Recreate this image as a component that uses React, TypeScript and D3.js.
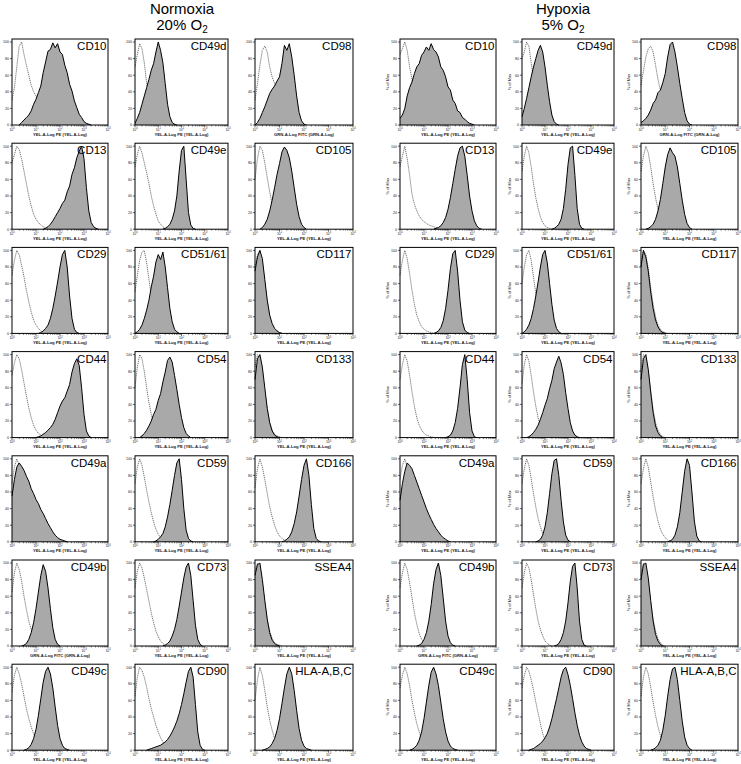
import React from 'react';
import * as d3 from 'd3';

// ---------- data ----------
const STEP = 0.1; // histogram bin width in decades (log10 units)

const markers: string[] = [
  'CD10', 'CD49d', 'CD98',
  'CD13', 'CD49e', 'CD105',
  'CD29', 'CD51/61', 'CD117',
  'CD44', 'CD54', 'CD133',
  'CD49a', 'CD59', 'CD166',
  'CD49b', 'CD73', 'SSEA4',
  'CD49c', 'CD90', 'HLA-A,B,C',
];

const fitcMarkers: string[] = ['CD98', 'CD49b'];
const peTitle = 'YEL-A-Log PE (YEL-A-Log)';
const fitcTitle = 'GRN-A-Log FITC (GRN-A-Log)';

const yTicks: number[] = [0, 20, 40, 60, 80, 100];
const xDecades: number[] = [0, 1, 2, 3, 4];

// Normoxia isotype controls (start at 10^0)
const normCtrl: number[][] = [
  [30, 45, 70, 95, 100, 85, 72, 60, 48, 40, 35, 30, 24, 18, 12, 8, 4, 2, 1],
  [70, 85, 98, 92, 75, 50, 38, 30, 22, 15, 10, 6, 3, 1],
  [30, 50, 72, 90, 95, 88, 70, 58, 50, 40, 30, 20, 12, 6, 3, 1],
  [80, 90, 100, 96, 85, 70, 55, 40, 28, 18, 12, 8, 5, 3, 2, 1],
  [75, 90, 100, 92, 80, 68, 55, 40, 28, 18, 10, 6, 3, 1],
  [60, 85, 100, 95, 80, 62, 45, 30, 18, 10, 5, 2, 1],
  [70, 88, 100, 95, 82, 68, 52, 38, 26, 16, 10, 6, 3, 1],
  [50, 70, 88, 98, 100, 85, 65, 45, 30, 18, 10, 5, 2, 1],
  [80, 95, 100, 85, 60, 38, 20, 10, 5, 2, 1],
  [75, 90, 100, 95, 82, 66, 50, 36, 24, 15, 9, 5, 3, 1],
  [60, 85, 100, 95, 80, 60, 42, 28, 16, 9, 4, 2, 1],
  [85, 100, 95, 80, 55, 35, 18, 9, 4, 2, 1],
  [70, 90, 100, 92, 75, 55, 38, 24, 14, 8, 4, 2, 1],
  [70, 90, 100, 92, 78, 62, 48, 35, 24, 15, 9, 5, 2, 1],
  [65, 88, 100, 90, 75, 58, 42, 30, 20, 12, 7, 4, 2, 1],
  [65, 88, 100, 92, 78, 60, 44, 30, 20, 12, 7, 3, 1],
  [70, 90, 100, 94, 82, 68, 54, 40, 28, 18, 11, 6, 3, 1],
  [90, 100, 92, 75, 52, 32, 18, 9, 4, 2, 1],
  [70, 90, 100, 92, 80, 65, 50, 38, 28, 20, 13, 8, 4, 2, 1],
  [65, 88, 100, 96, 88, 76, 62, 50, 40, 30, 22, 15, 10, 6, 3, 1],
  [60, 85, 100, 90, 72, 52, 36, 24, 14, 8, 4, 2, 1],
];

// Normoxia stained samples: first bin index, then counts (% of max)
const normSampleStart: number[] = [4, 0, 1, 14, 13, 3, 12, 1, 0, 11, 3, 0, 0, 9, 12, 5, 13, 0, 6, 6, 4];
const normSample: number[][] = [
  [3, 6, 9, 12, 17, 25, 31, 39, 47, 63, 76, 89, 91, 99, 93, 98, 88, 85, 72, 63, 49, 41, 29, 21, 13, 9, 4, 2, 1],
  [2, 8, 15, 25, 35, 45, 55, 66, 74, 88, 100, 90, 75, 50, 25, 10, 3, 1],
  [3, 8, 15, 22, 30, 38, 43, 47, 53, 58, 74, 96, 90, 98, 82, 60, 35, 15, 5, 1],
  [1, 3, 6, 10, 15, 20, 25, 31, 35, 45, 52, 66, 74, 86, 94, 100, 85, 50, 22, 8, 3, 1],
  [1, 3, 6, 12, 22, 40, 70, 95, 100, 60, 20, 5, 1],
  [2, 6, 12, 22, 35, 50, 66, 79, 93, 99, 95, 86, 70, 50, 30, 15, 6, 2],
  [1, 3, 6, 10, 18, 30, 45, 62, 80, 95, 100, 80, 45, 18, 5, 1],
  [2, 5, 10, 18, 28, 40, 56, 69, 86, 95, 89, 98, 80, 55, 30, 14, 5, 2],
  [75, 92, 100, 90, 65, 40, 22, 12, 6, 3, 1],
  [1, 2, 4, 6, 9, 12, 16, 22, 30, 38, 44, 48, 56, 64, 79, 89, 95, 87, 60, 28, 8, 2],
  [2, 5, 9, 14, 20, 28, 34, 45, 53, 67, 79, 93, 97, 91, 75, 58, 40, 24, 12, 5, 2],
  [70, 95, 100, 85, 60, 35, 18, 8, 3, 1],
  [55, 75, 90, 95, 91, 86, 79, 73, 64, 58, 51, 46, 39, 34, 28, 22, 17, 12, 8, 5, 3, 2, 1],
  [1, 3, 6, 10, 18, 30, 45, 62, 80, 95, 100, 75, 40, 14, 4, 1],
  [1, 3, 6, 12, 22, 36, 55, 75, 92, 100, 80, 45, 16, 4, 1],
  [1, 3, 8, 16, 28, 45, 65, 85, 98, 90, 70, 45, 22, 8, 2],
  [1, 3, 6, 12, 20, 32, 48, 65, 82, 95, 100, 85, 55, 25, 8, 2],
  [85, 98, 100, 80, 55, 32, 16, 7, 3, 1],
  [1, 3, 7, 14, 25, 42, 62, 82, 95, 100, 92, 75, 52, 30, 14, 6, 2, 1],
  [1, 2, 3, 4, 5, 6, 8, 10, 13, 17, 22, 28, 35, 44, 55, 68, 82, 95, 100, 88, 55, 22, 6, 1],
  [1, 2, 4, 8, 14, 24, 38, 56, 75, 92, 100, 92, 72, 48, 26, 12, 5, 2, 1],
];

// Hypoxia isotype controls
const hypCtrl: number[][] = [
  [85, 92, 100, 90, 70, 55, 42, 30, 20, 12, 7, 4, 2, 1],
  [80, 88, 100, 95, 75, 55, 40, 28, 18, 10, 5, 2, 1],
  [48, 65, 82, 92, 95, 88, 72, 55, 42, 30, 20, 12, 6, 3, 1],
  [75, 88, 100, 85, 65, 42, 30, 22, 16, 12, 9, 7, 5, 4, 3, 2, 1],
  [70, 88, 100, 92, 75, 55, 38, 25, 15, 8, 4, 2, 1],
  [70, 88, 100, 92, 75, 55, 38, 24, 14, 8, 4, 2, 1],
  [70, 88, 100, 90, 72, 52, 35, 22, 14, 8, 5, 3, 2, 1],
  [60, 80, 95, 100, 88, 68, 48, 32, 20, 12, 6, 3, 1],
  [85, 100, 95, 78, 55, 35, 20, 10, 5, 2, 1],
  [70, 88, 100, 92, 75, 55, 38, 24, 15, 9, 5, 3, 2, 1],
  [65, 88, 100, 92, 75, 55, 38, 24, 14, 8, 4, 2, 1],
  [80, 100, 96, 80, 56, 34, 18, 9, 4, 1],
  [75, 92, 100, 90, 72, 52, 35, 22, 13, 7, 3, 1],
  [70, 88, 100, 92, 76, 58, 42, 28, 18, 10, 5, 2, 1],
  [70, 88, 100, 90, 72, 54, 38, 25, 15, 9, 5, 2, 1],
  [70, 88, 100, 92, 76, 58, 40, 26, 15, 8, 4, 2, 1],
  [70, 88, 100, 94, 80, 62, 45, 30, 20, 12, 6, 3, 1],
  [85, 100, 92, 75, 52, 32, 18, 9, 4, 1],
  [75, 90, 100, 92, 78, 60, 45, 32, 22, 14, 8, 4, 2, 1],
  [75, 90, 100, 95, 85, 72, 58, 45, 32, 20, 12, 6, 3, 1],
  [65, 88, 100, 92, 76, 58, 42, 28, 18, 10, 5, 2, 1],
];

const hypSampleStart: number[] = [0, 0, 0, 15, 14, 3, 15, 1, 0, 20, 3, 0, 0, 7, 12, 8, 15, 0, 5, 4, 5];
const hypSample: number[][] = [
  [8, 12, 20, 35, 45, 52, 62, 70, 74, 84, 88, 94, 90, 98, 91, 88, 82, 70, 66, 58, 46, 42, 30, 26, 17, 15, 9, 7, 4, 2, 1],
  [10, 20, 32, 45, 58, 70, 80, 90, 96, 88, 70, 48, 28, 12, 4, 1],
  [3, 5, 8, 12, 18, 26, 30, 39, 42, 51, 62, 82, 97, 100, 88, 70, 50, 32, 15, 5, 1],
  [1, 2, 4, 8, 14, 24, 38, 55, 72, 88, 98, 100, 88, 65, 40, 22, 10, 4, 1],
  [1, 3, 6, 12, 25, 48, 78, 98, 100, 65, 25, 6, 1],
  [1, 3, 6, 12, 22, 36, 55, 75, 90, 98, 92, 88, 75, 55, 35, 18, 7, 2],
  [1, 3, 7, 15, 30, 52, 78, 96, 100, 75, 40, 14, 4, 1],
  [2, 5, 10, 18, 30, 45, 62, 80, 95, 100, 85, 60, 35, 16, 6, 2],
  [80, 100, 92, 75, 50, 30, 16, 8, 3, 1],
  [1, 3, 8, 18, 35, 60, 88, 100, 70, 30, 8, 1],
  [1, 3, 6, 10, 15, 22, 30, 39, 47, 59, 69, 83, 91, 98, 90, 76, 54, 35, 18, 8, 3, 1],
  [70, 95, 100, 82, 55, 30, 14, 6, 2],
  [50, 70, 85, 95, 92, 88, 80, 72, 64, 56, 48, 40, 33, 27, 21, 16, 12, 8, 5, 3, 1],
  [1, 3, 8, 18, 35, 58, 82, 98, 100, 80, 50, 24, 8, 2],
  [1, 3, 8, 18, 35, 60, 85, 100, 92, 60, 25, 7, 1],
  [1, 3, 8, 16, 30, 50, 75, 92, 100, 85, 58, 30, 12, 4, 1],
  [1, 3, 8, 16, 30, 52, 78, 96, 100, 70, 30, 8, 1],
  [80, 98, 100, 82, 55, 30, 14, 6, 2],
  [1, 3, 6, 12, 22, 38, 58, 78, 94, 100, 92, 78, 58, 38, 22, 11, 5, 2, 1],
  [1, 2, 4, 6, 8, 11, 15, 20, 28, 38, 50, 62, 75, 88, 97, 100, 91, 78, 62, 45, 30, 18, 10, 5, 2, 1],
  [1, 3, 6, 12, 24, 42, 65, 85, 98, 100, 85, 60, 35, 16, 6, 2],
];

// ---------- layout ----------
const W = 741;
const H = 764;
const FONT = '"Liberation Sans", Arial, Helvetica, sans-serif';
const ROW_TOP = 39;
const ROW_STEP = 104.2;
const PANEL_H = 86;

type Group = {
  title: string;
  o2: string;
  cx: number;
  cols: [number, number][];
  ctrl: number[][];
  sample: number[][];
  start: number[];
  yTitle: boolean;
};

const groups: Group[] = [
  { title: 'Normoxia', o2: '20% O', cx: 182, cols: [[12, 108], [135, 228], [255, 353]], ctrl: normCtrl, sample: normSample, start: normSampleStart, yTitle: false },
  { title: 'Hypoxia', o2: '5% O', cx: 563, cols: [[400, 496], [522, 614], [641, 738]], ctrl: hypCtrl, sample: hypSample, start: hypSampleStart, yTitle: true },
];

type Pt = [number, number];

function toPoints(vals: number[], start: number): Pt[] {
  const pts: Pt[] = [];
  if (start > 0) pts.push([(start - 1) * STEP, 0]);
  vals.forEach((v, i) => pts.push([(start + i) * STEP, v]));
  pts.push([(start + vals.length) * STEP, 0]);
  return pts;
}

function Panel({ x0, x1, top, label, ctrl, sample, start, yTitle }: {
  x0: number; x1: number; top: number; label: string; ctrl: number[]; sample: number[]; start: number; yTitle: boolean;
}) {
  const bottom = top + PANEL_H;
  const xs = d3.scaleLog().domain([1, 1e4]).range([x0, x1]);
  const ys = d3.scaleLinear().domain([0, 100]).range([bottom, top + 3]);
  const area = d3.area<Pt>().x(d => xs(Math.pow(10, d[0]))).y0(ys(0)).y1(d => ys(d[1]));
  const line = d3.line<Pt>().x(d => xs(Math.pow(10, d[0]))).y(d => ys(d[1]));
  const ctrlPts = toPoints(ctrl, 0);
  const samplePts = toPoints(sample, start);
  const minor: number[] = [];
  for (let d = 0; d < 4; d++) for (let k = 2; k <= 9; k++) minor.push(k * Math.pow(10, d));
  const xTitle = fitcMarkers.includes(label) ? fitcTitle : peTitle;
  return (
    <g>
      <path d={line(ctrlPts) || ''} fill="none" stroke="#3a3a3a" strokeWidth={0.7} strokeDasharray="1.2,0.8" />
      <path d={area(samplePts) || ''} fill="#a9a9a9" stroke="none" />
      <path d={line(samplePts) || ''} fill="none" stroke="#000" strokeWidth={1} />
      <rect x={x0} y={top} width={x1 - x0} height={PANEL_H} fill="none" stroke="#000" strokeWidth={1} />
      {yTicks.map(t => (
        <g key={'y' + t}>
          <line x1={x0 - 2} x2={x0} y1={ys(t)} y2={ys(t)} stroke="#000" strokeWidth={0.6} />
          <text x={x0 - 3} y={ys(t) + 1.3} fontSize={3.6} textAnchor="end" fontFamily={FONT} fill="#222">{t}</text>
        </g>
      ))}
      {minor.map(m => (
        <line key={'m' + m} x1={xs(m)} x2={xs(m)} y1={bottom} y2={bottom + 1.5} stroke="#000" strokeWidth={0.5} />
      ))}
      {xDecades.map(d => (
        <g key={'x' + d}>
          <line x1={xs(Math.pow(10, d))} x2={xs(Math.pow(10, d))} y1={bottom} y2={bottom + 2.5} stroke="#000" strokeWidth={0.6} />
          <text x={xs(Math.pow(10, d))} y={bottom + 5.5} fontSize={3.4} textAnchor="middle" fontFamily={FONT} fill="#222">
            10<tspan fontSize={2.6} dy={-1.4}>{d}</tspan>
          </text>
        </g>
      ))}
      <text x={(x0 + x1) / 2} y={bottom + 10.5} fontSize={4.2} fontWeight="bold" textAnchor="middle" fontFamily={FONT} fill="#222">{xTitle}</text>
      {yTitle && (
        <text transform={`translate(${x0 - 11},${(top + bottom) / 2}) rotate(-90)`} fontSize={4} textAnchor="middle" fontFamily={FONT} fill="#222">% of Max</text>
      )}
      <text x={x1 - 1.5} y={top + 11} fontSize={11.5} textAnchor="end" fontFamily={FONT} fill="#000">{label}</text>
    </g>
  );
}

export default function App() {
  return (
    <svg width={W} height={H} viewBox={`0 0 ${W} ${H}`} style={{ position: 'absolute', left: 0, top: 0, background: '#fff' }}>
      <rect x={0} y={0} width={W} height={H} fill="#fff" />
      {groups.map(g => (
        <g key={g.title}>
          <text x={g.cx} y={13.5} fontSize={15} textAnchor="middle" fontFamily={FONT} fill="#000">{g.title}</text>
          <text x={g.cx} y={30} fontSize={15} textAnchor="middle" fontFamily={FONT} fill="#000">
            {g.o2}<tspan fontSize={10} dy={3}>2</tspan>
          </text>
          {markers.map((m, i) => {
            const r = Math.floor(i / 3);
            const c = i % 3;
            const [x0, x1] = g.cols[c];
            return (
              <Panel key={m} x0={x0} x1={x1} top={ROW_TOP + r * ROW_STEP} label={m}
                ctrl={g.ctrl[i]} sample={g.sample[i]} start={g.start[i]} yTitle={g.yTitle} />
            );
          })}
        </g>
      ))}
    </svg>
  );
}
